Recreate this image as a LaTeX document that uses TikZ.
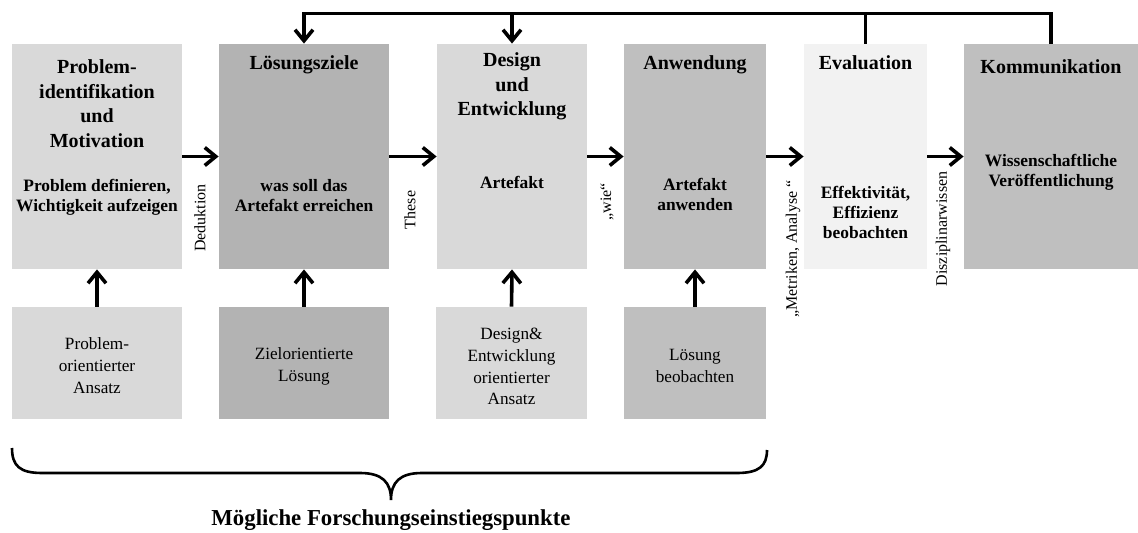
\documentclass[tikz,border=0pt]{standalone}
\usepackage{fontspec}
\setmainfont{Liberation Serif}
\usetikzlibrary{arrows.meta}
\definecolor{gLight}{HTML}{D9D9D9}
\definecolor{gDark}{HTML}{B3B3B3}
\definecolor{gMid}{HTML}{BFBFBF}
\definecolor{gPale}{HTML}{F2F2F2}
\tikzset{
  box/.style={draw=none, inner sep=0pt, minimum height=112.5pt},
  lowbox/.style={draw=none, inner sep=0pt, minimum height=56pt},
  title/.style={font=\bfseries\fontsize{10}{12.3}\selectfont, align=center, inner sep=0pt},
  body/.style={font=\bfseries\fontsize{8.7}{10}\selectfont, align=center, inner sep=0pt},
  lowtext/.style={font=\fontsize{8.6}{10.9}\selectfont, align=center, inner sep=0pt},
  sidelabel/.style={font=\fontsize{8}{9}\selectfont, rotate=90, inner sep=0pt},
  flow/.style={line width=1.8pt, -{Straight Barb[length=5.5pt,width=9pt,line width=1.8pt]}},
  brace/.style={line width=1.3pt}
}
\begin{document}
\begin{tikzpicture}[x=0.5pt,y=-0.5pt]
\useasboundingbox (0,0) rectangle (1138,533);

% top boxes
\node[box, fill=gLight, minimum width=85pt]   (b1) at (97,156.5) {};
\node[box, fill=gDark,  minimum width=85pt]   (b2) at (304,156.5) {};
\node[box, fill=gLight, minimum width=75pt]   (b3) at (512,156.5) {};
\node[box, fill=gMid,   minimum width=71pt]   (b4) at (695,156.5) {};
\node[box, fill=gPale,  minimum width=61.5pt] (b5) at (865.5,156.5) {};
\node[box, fill=gMid,   minimum width=87pt]   (b6) at (1051,156.5) {};

% bottom boxes
\node[lowbox, fill=gLight, minimum width=85pt]   (c1) at (97,363) {};
\node[lowbox, fill=gDark,  minimum width=85pt]   (c2) at (304,363) {};
\node[lowbox, fill=gLight, minimum width=75.5pt] (c3) at (511.5,363) {};
\node[lowbox, fill=gMid,   minimum width=71pt]   (c4) at (695,363) {};

% texts in top boxes
\node[title] (t1) at (97,103.5) {Problem-\\identifikation\\und\\Motivation};
\node[body]  (d1) at (97,197) {Problem definieren,\\Wichtigkeit aufzeigen};
\node[title] (t2) at (304,65) {Lösungsziele};
\node[body]  (d2) at (304,196) {was soll das\\Artefakt erreichen};
\node[title] (t3) at (512,86.5) {Design\\und\\Entwicklung};
\node[body]  (d3) at (512,182) {Artefakt};
\node[title] (t4) at (695,65) {Anwendung};
\node[body]  (d4) at (695,194.5) {Artefakt\\anwenden};
\node[title] (t5) at (865.5,63) {Evaluation};
\node[body]  (d5) at (865.5,212.5) {Effektivität,\\Effizienz\\beobachten};
\node[title] (t6) at (1051,67) {Kommunikation};
\node[body]  (d6) at (1051,172) {Wissenschaftliche\\Veröffentlichung};

% texts in bottom boxes
\node[lowtext] (e1) at (97,365.5) {Problem-\\orientierter\\Ansatz};
\node[lowtext] (e2) at (304,366) {Zielorientierte\\Lösung};
\node[lowtext] (e3) at (511.5,366.5) {Design\&\\Entwicklung\\orientierter\\Ansatz};
\node[lowtext] (e4) at (695,366) {Lösung\\beobachten};

% flow arrows
\draw[flow] (b1.east) -- (b2.west);
\draw[flow] (b2.east) -- (b3.west);
\draw[flow] (b3.east) -- (b4.west);
\draw[flow] (b4.east) -- (b5.west);
\draw[flow] (b5.east) -- (b6.west);

% rotated labels
\node[sidelabel] (l1) at (200,218) {Deduktion};
\node[sidelabel] (l2) at (410,210) {These};
\node[sidelabel] (l3) at (607,202) {„wie“};
\node[sidelabel] (l4) at (793,249) {„Metriken, Analyse “};
\node[sidelabel] (l5) at (943,229) {Disziplinarwissen};

% entry arrows
\draw[flow] (c1.north) -- (b1.south);
\draw[flow] (c2.north) -- (b2.south);
\draw[flow] (c3.north) -- (b3.south);
\draw[flow] (c4.north) -- (b4.south);

% feedback
\draw[flow] (b6.north) -- ++(0,-30) -| (b2.north);
\draw[flow] (b5.north) -- ++(0,-30) -| (b3.north);

% brace
\coordinate (brL) at (12,448);
\coordinate (brM) at (391,500);
\coordinate (brR) at (767,450);
\draw[brace] (brL) .. controls (12,466) and (20,473) .. (42,473)
  -- (360,473) .. controls (382,473) and (391,482) .. (brM)
  .. controls (391,482) and (400,473) .. (422,473)
  -- (737,473) .. controls (759,473) and (767,466) .. (brR);

\node[font=\bfseries\fontsize{11.4}{13}\selectfont, inner sep=0pt] (cap) at (391,520) {Mögliche Forschungseinstiegspunkte};
\end{tikzpicture}
\end{document}
